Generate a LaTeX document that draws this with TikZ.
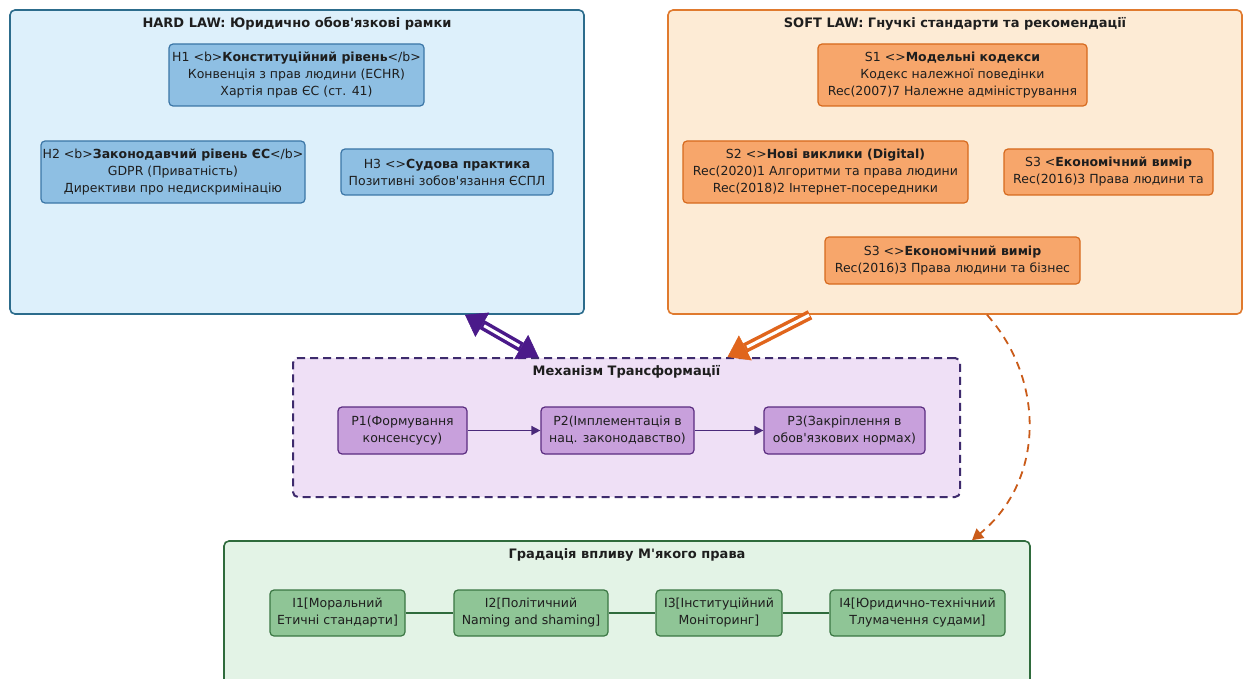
\documentclass[tikz,border=0pt]{standalone}
\usepackage{fontspec}
\setmainfont{DejaVu Sans}
\usetikzlibrary{arrows.meta}
\definecolor{hardfill}{HTML}{DDF0FB}
\definecolor{harddraw}{HTML}{2C6C8C}
\definecolor{hfill}{HTML}{8EBFE3}
\definecolor{hdraw}{HTML}{3B76A6}
\definecolor{softfill}{HTML}{FDEBD5}
\definecolor{softdraw}{HTML}{E07A2E}
\definecolor{sfill}{HTML}{F7A66B}
\definecolor{sdraw}{HTML}{D66A1E}
\definecolor{mechfill}{HTML}{EFE0F6}
\definecolor{mechdraw}{HTML}{3E2B6D}
\definecolor{pfill}{HTML}{C8A0DC}
\definecolor{pdraw}{HTML}{5A2C80}
\definecolor{parrow}{HTML}{4A2A7A}
\definecolor{greenfill}{HTML}{E3F3E6}
\definecolor{greendraw}{HTML}{2F6B3C}
\definecolor{ifill}{HTML}{8FC596}
\definecolor{idraw}{HTML}{3A7643}
\definecolor{dblpurple}{HTML}{4B1A8A}
\definecolor{dblorange}{HTML}{E0651C}
\definecolor{txt}{HTML}{1E1E1E}
\newcommand{\ap}{\textquotesingle}
\tikzset{
  every node/.style={text=txt, font=\fontsize{12.5}{17}\selectfont, align=center, inner sep=0pt},
  bigbox/.style={rounded corners=5pt, line width=1.6pt},
  hardbox/.style={bigbox, draw=harddraw, fill=hardfill},
  softbox/.style={bigbox, draw=softdraw, fill=softfill},
  mechbox/.style={rounded corners=5pt, line width=2pt, draw=mechdraw, fill=mechfill, dash pattern=on 8pt off 5pt},
  greenbox/.style={bigbox, draw=greendraw, fill=greenfill},
  title/.style={font=\bfseries\fontsize{13}{17}\selectfont},
  hbox/.style={rounded corners=4pt, line width=1.2pt, draw=hdraw, fill=hfill},
  sbox/.style={rounded corners=4pt, line width=1.2pt, draw=sdraw, fill=sfill},
  pbox/.style={rounded corners=4pt, line width=1.2pt, draw=pdraw, fill=pfill},
  ibox/.style={rounded corners=4pt, line width=1.2pt, draw=idraw, fill=ifill},
  parr/.style={draw=parrow, line width=1.6pt, -{Triangle[length=9pt,width=9pt]}},
  iline/.style={draw=greendraw, line width=2.5pt},
  bigtip/.tip={Triangle[length=20pt 0 0,width=28pt 0 0,line width=0.5pt]},
  fatline/.style={line width=10pt},
  gapline/.style={draw=white, line width=3pt},
  dashcurve/.style={draw=dblorange!90!black, line width=1.8pt, dash pattern=on 8pt off 6pt, -{Triangle[length=11pt,width=12pt]}},
}
\begin{document}
\begin{tikzpicture}[x=1pt,y=-1pt]
\clip (0,0) rectangle (1252,679);
\fill[white] (0,0) rectangle (1252,679);
% big frames
\node[hardbox, minimum width=574pt, minimum height=304pt] (hard) at (297,162) {};
\node[title] (hardt) at (297,24) {HARD LAW: Юридично обов\ap язкові рамки};
\node[softbox, minimum width=574pt, minimum height=304pt] (soft) at (955,162) {};
\node[title] (softt) at (955,24) {SOFT LAW: Гнучкі стандарти та рекомендації};
\node[mechbox, minimum width=667pt, minimum height=139pt] (mech) at (626.5,427.5) {};
\node[title] (mecht) at (626.5,372) {Механізм Трансформації};
\node[greenbox, minimum width=806pt, minimum height=170pt] (green) at (627,626) {};
\node[title] (greent) at (627,555) {Градація впливу М\ap якого права};
% hard law nodes
\node[hbox, minimum width=255pt, minimum height=62pt] (H1) at (296.5,75)
  {H1 <b>\textbf{Конституційний рівень}</b>\\Конвенція з прав людини (ECHR)\\Хартія прав ЄС (ст. 41)};
\node[hbox, minimum width=264pt, minimum height=62pt] (H2) at (173,172)
  {H2 <b>\textbf{Законодавчий рівень ЄС}</b>\\GDPR (Приватність)\\Директиви про недискримінацію};
\node[hbox, minimum width=212pt, minimum height=46pt] (H3) at (447,172)
  {H3 <>\textbf{Судова практика}\\Позитивні зобов\ap язання ЄСПЛ};
% soft law nodes
\node[sbox, minimum width=269pt, minimum height=62pt] (S1) at (952.5,75)
  {S1 <>\textbf{Модельні кодекси}\\Кодекс належної поведінки\\Rec(2007)7 Належне адміністрування};
\node[sbox, minimum width=285pt, minimum height=62pt] (S2) at (825.5,172)
  {S2 <>\textbf{Нові виклики (Digital)}\\Rec(2020)1 Алгоритми та права людини\\Rec(2018)2 Інтернет-посередники};
\node[sbox, minimum width=209pt, minimum height=46pt] (S3a) at (1108.5,172)
  {S3 <\textbf{Економічний вимір}\\Rec(2016)3 Права людини та};
\node[sbox, minimum width=255pt, minimum height=47pt] (S3b) at (952.5,260.5)
  {S3 <>\textbf{Економічний вимір}\\Rec(2016)3 Права людини та бізнес};
% mechanism
\node[pbox, minimum width=129pt, minimum height=47pt] (P1) at (402.5,430.5) {P1(Формування\\консенсусу)};
\node[pbox, minimum width=153pt, minimum height=47pt] (P2) at (617.5,430.5) {P2(Імплементація в\\нац. законодавство)};
\node[pbox, minimum width=161pt, minimum height=47pt] (P3) at (844.5,430.5) {P3(Закріплення в\\обов\ap язкових нормах)};
\draw[parr] (P1) -- (P2);
\draw[parr] (P2) -- (P3);
% gradation
\node[ibox, minimum width=135pt, minimum height=46pt] (I1) at (337.5,613) {I1[Моральний\\Етичні стандарти]};
\node[ibox, minimum width=154pt, minimum height=46pt] (I2) at (531,613) {I2[Політичний\\Naming and shaming]};
\node[ibox, minimum width=126pt, minimum height=46pt] (I3) at (719,613) {I3[Інституційний\\Моніторинг]};
\node[ibox, minimum width=175pt, minimum height=46pt] (I4) at (917.5,613) {I4[Юридично-технічний\\Тлумачення судами]};
\draw[iline] (I1) -- (I2);
\draw[iline] (I2) -- (I3);
\draw[iline] (I3) -- (I4);
% big double arrows
\draw[fatline, draw=dblpurple, {bigtip}-{bigtip}]
  ([xshift=168pt]hard.south) -- ([xshift=-88pt]mech.north);
\draw[gapline, shorten <=22pt, shorten >=22pt]
  ([xshift=168pt]hard.south) -- ([xshift=-88pt]mech.north);
\draw[fatline, draw=dblorange, -{bigtip}]
  ([xshift=-145pt]soft.south) -- ([xshift=101pt]mech.north);
\draw[gapline, shorten <=1pt, shorten >=22pt]
  ([xshift=-145pt]soft.south) -- ([xshift=101pt]mech.north);
\draw[dashcurve] ([xshift=32pt]soft.south) .. controls (1045,380) and (1045,480) .. ([xshift=345pt]green.north);
\end{tikzpicture}
\end{document}
